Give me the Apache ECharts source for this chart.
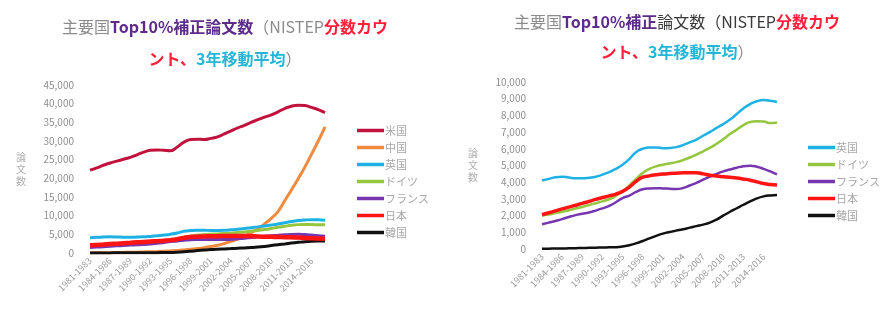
<!DOCTYPE html>
<html>
<head>
<meta charset="utf-8">
<script src="https://cdn.jsdelivr.net/npm/echarts@6/dist/echarts.min.js"></script>
<style>
  html, body { margin: 0; padding: 0; background: #fff; }
  #main { width: 893px; height: 312px; }
</style>
</head>
<body>
<div id="main"></div>
<script>
// 3-year moving windows, 1981-1983 ... 2016-2018
var periods = [];
for (var y = 1981; y <= 2016; y++) {
  periods.push(y + '-' + (y + 2));
}

var usa     = [22200, 22800, 23500, 24100, 24600, 25100, 25600, 26300, 27000, 27500, 27600, 27500, 27400, 28400, 29700, 30400, 30500, 30400, 30700, 31100, 31900, 32700, 33500, 34200, 35000, 35700, 36400, 37000, 37800, 38700, 39300, 39600, 39500, 39000, 38400, 37600];
var china   = [50, 60, 80, 100, 120, 150, 190, 230, 280, 340, 400, 480, 570, 680, 820, 980, 1180, 1420, 1720, 2080, 2550, 3100, 3750, 4500, 5400, 6500, 7800, 9300, 11100, 14000, 16900, 19900, 23000, 26500, 30000, 33800];
var uk      = [4100, 4200, 4300, 4330, 4280, 4230, 4230, 4270, 4330, 4450, 4600, 4800, 5050, 5380, 5800, 6000, 6080, 6080, 6040, 6050, 6100, 6220, 6380, 6550, 6780, 7000, 7250, 7480, 7750, 8080, 8420, 8680, 8850, 8920, 8880, 8800];
var germany = [2000, 2070, 2150, 2230, 2320, 2420, 2520, 2630, 2740, 2850, 2980, 3180, 3450, 3800, 4200, 4550, 4800, 4950, 5050, 5120, 5200, 5320, 5480, 5650, 5850, 6050, 6300, 6580, 6880, 7150, 7420, 7600, 7650, 7640, 7540, 7580];
var france  = [1480, 1580, 1680, 1790, 1920, 2030, 2110, 2190, 2300, 2430, 2580, 2800, 3050, 3200, 3420, 3580, 3630, 3640, 3630, 3610, 3590, 3650, 3800, 3960, 4150, 4330, 4500, 4650, 4760, 4870, 4960, 4990, 4930, 4800, 4650, 4470];
var japan   = [2050, 2170, 2280, 2400, 2510, 2620, 2730, 2850, 2970, 3080, 3180, 3290, 3450, 3700, 4050, 4300, 4380, 4440, 4490, 4520, 4540, 4560, 4570, 4570, 4500, 4420, 4370, 4330, 4290, 4250, 4190, 4120, 4020, 3920, 3860, 3830];
var korea   = [15, 20, 25, 30, 40, 50, 60, 70, 80, 90, 100, 110, 150, 230, 340, 480, 640, 790, 920, 1020, 1100, 1180, 1280, 1370, 1460, 1580, 1760, 2000, 2230, 2440, 2650, 2850, 3030, 3150, 3210, 3230];

var leftNames  = ['米国', '中国', '英国', 'ドイツ', 'フランス', '日本', '韓国'];
var rightNames = ['英国', 'ドイツ', 'フランス', '日本', '韓国'];

var colors = {
  '米国': '#c0123c',
  '中国': '#f08a3e',
  '英国': '#1eb2e4',
  'ドイツ': '#94c640',
  'フランス': '#7636b0',
  '日本': '#ff1414',
  '韓国': '#111111'
};
var values = {
  '米国': usa, '中国': china, '英国': uk, 'ドイツ': germany,
  'フランス': france, '日本': japan, '韓国': korea
};

var FONT = '"Noto Sans CJK JP", "Noto Sans", sans-serif';

function rich(lh) {
  return {
    g: { color: '#8c8c8c', fontSize: 16, fontWeight: 'normal', fontFamily: FONT, lineHeight: lh },
    p: { color: '#5e2a8c', fontSize: 16, fontWeight: 'bold', fontFamily: FONT, lineHeight: lh },
    k: { color: '#3a3a3a', fontSize: 16, fontWeight: 'normal', fontFamily: FONT, lineHeight: lh },
    r: { color: '#ff1f3a', fontSize: 16, fontWeight: 'bold', fontFamily: FONT, lineHeight: lh },
    c: { color: '#25b5d8', fontSize: 16, fontWeight: 'bold', fontFamily: FONT, lineHeight: lh }
  };
}

function makeSeries(names, idx, wide) {
  return names.map(function (n) {
    var w = wide ? 3 : 2.5;
    if (n === '日本') w = wide ? 4.5 : 3.5;
    return {
      name: n,
      type: 'line',
      xAxisIndex: idx,
      yAxisIndex: idx,
      smooth: true,
      symbol: 'none',
      data: values[n],
      lineStyle: { width: w, color: colors[n] },
      itemStyle: { color: colors[n] },
      z: n === '日本' ? 3 : 2
    };
  });
}

function xAxis(gi) {
  return {
    type: 'category',
    gridIndex: gi,
    data: periods,
    boundaryGap: false,
    axisLine: { show: false },
    axisTick: { show: false },
    axisLabel: {
      interval: 2,
      rotate: 45,
      color: '#9a9a9a',
      fontSize: 9,
      fontFamily: FONT,
      margin: 6
    }
  };
}

function yAxis(gi, max, step) {
  return {
    type: 'value',
    gridIndex: gi,
    min: 0,
    max: max,
    interval: step,
    name: '論\n文\n数',
    nameLocation: 'middle',
    nameRotate: 0,
    nameGap: 64,
    nameTextStyle: { color: '#b0b0b0', fontSize: 10, lineHeight: 12, fontFamily: FONT },
    axisLine: { show: false },
    axisTick: { show: false },
    splitLine: { show: false },
    axisLabel: {
      color: '#8f8f8f',
      fontSize: 10,
      fontFamily: FONT,
      margin: 16,
      formatter: function (v) { return v.toLocaleString('en-US'); }
    }
  };
}

var chart = echarts.init(document.getElementById('main'), null, { renderer: 'canvas' });

chart.setOption({
  backgroundColor: '#ffffff',
  animation: false,
  title: [{
    text: '{g|主要国}{p|Top10%補正論文数}{g|（NISTEP}{r|分数カウ}\n{r|ント、}{c|3年移動平均}{g|）}',
    left: 220,
    top: 6,
    textAlign: 'center',
    textStyle: { rich: rich(32) }
  }, {
    text: '{g|主要国}{p|Top10%補正}{k|論文数（NISTEP}{r|分数カウ}\n{r|ント、}{c|3年移動平均}{g|）}',
    left: 672,
    top: 2,
    textAlign: 'center',
    textStyle: { rich: rich(30) }
  }],
  legend: [{
    orient: 'vertical',
    left: 352,
    top: 120,
    itemGap: 6,
    itemWidth: 27,
    itemHeight: 3.5,
    icon: 'rect',
    data: leftNames,
    textStyle: { color: '#a8a8a8', fontSize: 11, fontFamily: FONT, padding: [0, 0, 0, -4] }
  }, {
    orient: 'vertical',
    left: 803,
    top: 137,
    itemGap: 6,
    itemWidth: 27,
    itemHeight: 3.5,
    icon: 'rect',
    data: rightNames,
    textStyle: { color: '#a8a8a8', fontSize: 11, fontFamily: FONT, padding: [0, 0, 0, -4] }
  }],
  grid: [
    { left: 90, top: 85, width: 235, height: 168 },
    { left: 542, top: 82, width: 235, height: 167 }
  ],
  xAxis: [xAxis(0), xAxis(1)],
  yAxis: [yAxis(0, 45000, 5000), yAxis(1, 10000, 1000)],
  series: makeSeries(leftNames, 0, true).concat(makeSeries(rightNames, 1, false))
});
</script>
</body>
</html>
